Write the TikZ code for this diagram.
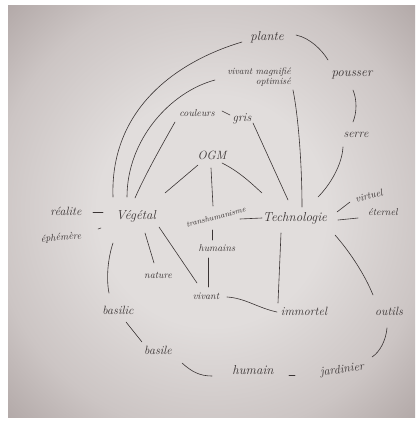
\documentclass[tikz,border=0pt]{standalone}
\definecolor{ink}{RGB}{58,52,52}
\definecolor{paperA}{RGB}{225,221,220}
\definecolor{paperB}{RGB}{204,197,196}
\definecolor{paperC}{RGB}{174,164,163}
\pgfdeclareradialshading{paper}{\pgfpoint{0bp}{0bp}}{color(0bp)=(paperA); color(14bp)=(paperA); color(27bp)=(paperB); color(37bp)=(paperC); color(50bp)=(paperC)}
\begin{document}
\begin{tikzpicture}[x=1pt,y=-1pt,
  word/.style={text=ink,font=\fontsize{12}{14}\selectfont\itshape,inner sep=1pt},
  big/.style={font=\fontsize{13}{15}\selectfont\itshape},
  small/.style={font=\fontsize{10}{11}\selectfont\itshape},
  tiny/.style={font=\fontsize{9.5}{10}\selectfont\itshape},
  mini/.style={font=\fontsize{8}{9}\selectfont\itshape},
  link/.style={draw=ink,line width=0.6pt,line cap=round}]
\useasboundingbox (0,0) rectangle (419,421);
\fill[white] (0,0) rectangle (419,421);
\shade[shading=paper] (8,5) rectangle (415,417);
% nodes
\node[word,big] (plante) at (267,37) {plante};
\node[word,big] (pousser) at (352,75) {pousser};
\node[word,tiny,align=right] (vivmag) at (259,77) {vivant magnifié\\optimisé};
\node[word,small] (couleurs) at (197,113) {couleurs};
\node[word] (gris) at (242,119) {gris};
\node[word] (serre) at (356,135) {serre};
\node[word] (ogm) at (212,155) {OGM};
\node[word] (realite) at (66,211) {réalite};
\node[word,big] (veg) at (136,216) {Végétal};
\node[word,small,rotate=5] (ephemere) at (61,238) {éphémère};
\node[word,mini,rotate=15] (trans) at (216,217) {transhumanisme};
\node[word,big] (techno) at (295,218) {Technologie};
\node[word,small,rotate=15] (virtuel) at (369,196) {virtuel};
\node[word,small] (eternel) at (383,212) {éternel};
\node[word,small] (humains) at (217,248) {humains};
\node[word,small] (nature) at (158,275) {nature};
\node[word,small] (vivant) at (206,296) {vivant};
\node[word] (basilic) at (118,310) {basilic};
\node[word] (immortel) at (304,311) {immortel};
\node[word] (outils) at (389,311) {outils};
\node[word] (basile) at (158,350) {basile};
\node[word,big] (humain) at (253,370) {humain};
\node[word,rotate=8] (jardinier) at (342,370) {jardinier};
% connectors
\draw[link] ([shift={(-25,5)}]plante.center) .. controls (175,62) and (110,110) .. ([shift={(-23,-19)}]veg.center);
\draw[link] ([shift={(29,-2)}]plante.center) .. controls (310,38) and (322,50) .. ([shift={(-24,-15)}]pousser.center);
\draw[link] ([shift={(-44,3)}]vivmag.center) .. controls (170,92) and (127,140) .. ([shift={(-9,-19)}]veg.center);
\draw[link] ([shift={(34,13)}]vivmag.center) .. controls (299,120) and (302,170) .. ([shift={(7,-11)}]techno.center);
\draw[link] ([shift={(-22,9)}]couleurs.center) .. controls (162,145) and (145,175) .. ([shift={(-1,-18)}]veg.center);
\draw[link] ([shift={(25,-2)}]couleurs.center) -- ([shift={(-12,-4)}]gris.center);
\draw[link] ([shift={(11,4)}]gris.center) -- ([shift={(-7,-18)}]techno.center);
\draw[link] ([shift={(1,15)}]pousser.center) .. controls (357,100) and (357,112) .. ([shift={(-3,-13)}]serre.center);
\draw[link] ([shift={(-13,12)}]serre.center) .. controls (342,165) and (330,185) .. ([shift={(23,-21)}]techno.center);
\draw[link] ([shift={(-14,10)}]ogm.center) -- ([shift={(29,-23)}]veg.center);
\draw[link] ([shift={(-1,13)}]ogm.center) -- ([shift={(-3,-11)}]trans.center);
\draw[link] ([shift={(10,8)}]ogm.center) .. controls (240,172) and (252,184) .. ([shift={(-33,-25)}]techno.center);
\draw[link] ([shift={(27,1)}]realite.center) -- ([shift={(-33,-4)}]veg.center);
\draw[link] ([shift={(37,-9)}]ephemere.center) -- ([shift={(-35,12)}]veg.center);
\draw[link] ([shift={(24,2)}]trans.center) -- ([shift={(-33,0)}]techno.center);
\draw[link] ([shift={(42,-6)}]techno.center) -- ([shift={(-19,6)}]virtuel.center);
\draw[link] ([shift={(43,2)}]techno.center) -- ([shift={(-25,6)}]eternel.center);
\draw[link] ([shift={(-4,13)}]trans.center) -- ([shift={(-5,-8)}]humains.center);
\draw[link] ([shift={(-9,10)}]humains.center) -- ([shift={(2,-9)}]vivant.center);
\draw[link] ([shift={(9,17)}]veg.center) -- ([shift={(-4,-12)}]nature.center);
\draw[link] ([shift={(23,11)}]veg.center) -- ([shift={(-9,-13)}]vivant.center);
\draw[link] ([shift={(-23,27)}]veg.center) .. controls (108,258) and (106,278) .. ([shift={(-9,-17)}]basilic.center);
\draw[link] ([shift={(21,1)}]vivant.center) .. controls (245,298) and (258,308) .. ([shift={(-27,1)}]immortel.center);
\draw[link] ([shift={(-14,15)}]techno.center) -- ([shift={(-26,-8)}]immortel.center);
\draw[link] ([shift={(40,17)}]techno.center) .. controls (350,252) and (365,275) .. ([shift={(-16,-16)}]outils.center);
\draw[link] ([shift={(8,12)}]basilic.center) -- ([shift={(-16,-8)}]basile.center);
\draw[link] ([shift={(24,13)}]basile.center) .. controls (192,372) and (200,376) .. ([shift={(-41,6)}]humain.center);
\draw[link] ([shift={(36,5)}]humain.center) -- ([shift={(-47,5)}]jardinier.center);
\draw[link] ([shift={(30,-13)}]jardinier.center) .. controls (380,352) and (386,340) .. ([shift={(-2,17)}]outils.center);
\end{tikzpicture}
\end{document}
